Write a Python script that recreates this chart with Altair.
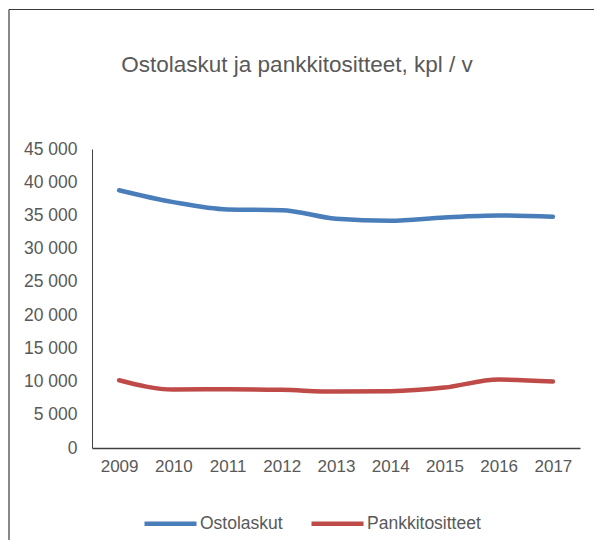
import altair as alt
import pandas as pd

years = ["2009", "2010", "2011", "2012", "2013", "2014", "2015", "2016", "2017"]
ostolaskut = [38800, 37000, 35900, 35800, 34500, 34200, 34700, 35000, 34800]
pankkitositteet = [10200, 8800, 8850, 8750, 8500, 8550, 9100, 10300, 10000]
series = ["Ostolaskut", "Pankkitositteet"]
colors = ["#4A7EBB", "#BE4B48"]
y_ticks = [0, 5000, 10000, 15000, 20000, 25000, 30000, 35000, 40000, 45000]
title_text = "Ostolaskut ja pankkitositteet, kpl / v"

rows = []
for y, a, b in zip(years, ostolaskut, pankkitositteet):
    rows.append({"year": y, "series": series[0], "value": a})
    rows.append({"year": y, "series": series[1], "value": b})
df = pd.DataFrame(rows)

W, H = 488, 299
PL, PT, PR, PB = 84, 141, 14, 92
FONT = "Liberation Sans"
GREY = "#595959"

lines = alt.Chart(df).mark_line(strokeWidth=4.5, interpolate="monotone", strokeCap="round").encode(
    x=alt.X("year:O", sort=years, scale=alt.Scale(type="point", padding=0.5),
            axis=alt.Axis(title=None, labelAngle=0, ticks=False, domainColor="#404040",
                          domainWidth=1.5, labelPadding=10, labelFontSize=17,
                          labelColor=GREY, labelFont=FONT)),
    y=alt.Y("value:Q", scale=alt.Scale(domain=[0, 45000], nice=False),
            axis=alt.Axis(title=None, values=y_ticks, grid=False, ticks=False,
                          domainColor="#404040", domainWidth=1, labelPadding=15,
                          labelFontSize=17.5, labelColor=GREY, labelFont=FONT,
                          labelExpr="replace(format(datum.value, ','), ',', ' ')")),
    color=alt.Color("series:N", scale=alt.Scale(domain=series, range=colors),
                    legend=alt.Legend(title=None, orient="none", direction="horizontal",
                                      legendX=50, legendY=346, symbolType="stroke",
                                      symbolSize=2704, symbolStrokeWidth=4.5,
                                      labelFontSize=17.5, labelColor=GREY, labelFont=FONT,
                                      labelOffset=1, columnPadding=19)),
)

title_mark = alt.Chart(pd.DataFrame({"t": [title_text]})).mark_text(
    font=FONT, fontSize=22.5, color=GREY, align="center", baseline="middle"
).encode(text="t:N", x=alt.value(205), y=alt.value(-84))

border_top = alt.Chart(pd.DataFrame({"a": [0]})).mark_rule(color="#3a3a3a", strokeWidth=1.2).encode(
    x=alt.value(-83), x2=alt.value(W + PR), y=alt.value(-139.5)
)
border_left = alt.Chart(pd.DataFrame({"a": [0]})).mark_rule(color="#3a3a3a", strokeWidth=1.2).encode(
    x=alt.value(-83), y=alt.value(-139.5), y2=alt.value(H + PB)
)

chart = alt.layer(lines, title_mark, border_top, border_left).properties(
    width=W, height=H,
    autosize=alt.AutoSizeParams(type="none"),
    padding={"left": PL, "top": PT, "right": PR, "bottom": PB},
).configure_view(stroke=None)

chart.save("out.html", embed_options={"renderer": "svg", "actions": False})
